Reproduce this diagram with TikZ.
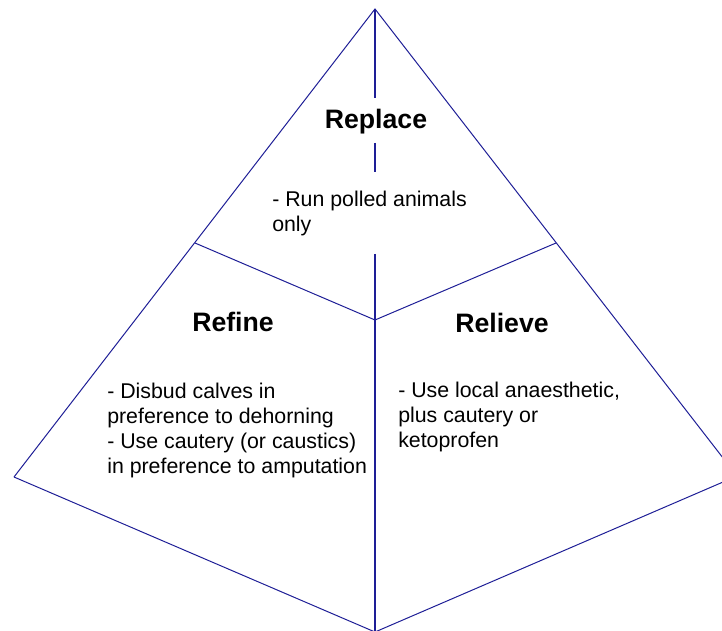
\documentclass[tikz,border=0pt]{standalone}
\usepackage{fontspec}
\setmainfont{Liberation Sans}
\usepackage{tikz}
\usetikzlibrary{positioning}

\definecolor{pyrblue}{RGB}{30,30,150}

\begin{document}
\begin{tikzpicture}[
        x=0.75pt, y=-0.75pt,
        edge/.style={draw=pyrblue, line width=0.75pt},
        axis/.style={draw=pyrblue, line width=1.1pt},
        title/.style={inner sep=0pt, anchor=base, font=\fontsize{20}{24}\selectfont\bfseries},
        body/.style={inner sep=0pt, anchor=base west, align=left, font=\fontsize{16}{18.75}\selectfont}
    ]
        \useasboundingbox (0,0) rectangle (722,631);
        \clip (0,0) rectangle (722,631);

        % corners of the pyramid
        \coordinate (apex) at (375,9);
        \coordinate (left) at (14,477);
        \coordinate (right) at (737,476);
        \coordinate (bottom) at (375,632);
        \coordinate (centre) at (375,320);
        \coordinate (lmid) at (195,243);
        \coordinate (rmid) at (556,243);
        \coordinate (cut1) at (375,98);
        \coordinate (cut2) at (375,143);
        \coordinate (cut3) at (375,172);
        \coordinate (cut4) at (375,254);

        \node[title] (replace) at (376,129) {Replace};
        \node[title] (refine) at (233,331) {Refine};
        \node[title] (relieve) at (502,333) {Relieve};

        % base anchor sits on the last line
        \node[body] (replacetxt) at (272,232) {- Run polled animals\\only};
        \node[body] (refinetxt) at (107,473) {- Disbud calves in\\preference to dehorning\\- Use cautery (or caustics)\\in preference to amputation};
        \node[body] (relievetxt) at (398,447) {- Use local anaesthetic,\\plus cautery or\\ketoprofen};

        \draw[edge] (left) -- (apex) -- (right);
        \draw[edge] (left) -- (bottom) -- (right);
        \draw[edge] (lmid) -- (centre) -- (rmid);

        \draw[axis] (apex) -- (cut1);
        \draw[axis] (cut2) -- (cut3);
        \draw[axis] (cut4) -- (centre);
        \draw[axis] (centre) -- (bottom);
    \end{tikzpicture}
\end{document}
